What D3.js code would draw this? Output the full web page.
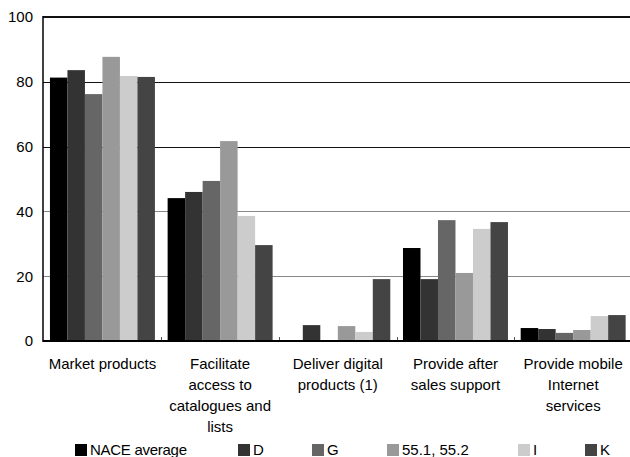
<!DOCTYPE html>
<html><head><meta charset="utf-8">
<script src="https://cdn.jsdelivr.net/npm/d3@7"></script>
<style>body{margin:0;background:#fff}svg{display:block;font-family:"Liberation Sans",Arial,sans-serif}</style>
</head><body><svg id="c" width="630" height="457"></svg>
<script>
const categories = [
  ["Market products"],
  ["Facilitate","access to","catalogues and","lists"],
  ["Deliver digital","products (1)"],
  ["Provide after","sales support"],
  ["Provide mobile","Internet","services"]
];
const seriesNames = ["NACE average","D","G","55.1, 55.2","I","K"];
const nace   = [81.3, 44.1, 0,   28.7, 4.0];
const sD     = [83.6, 46.0, 4.9, 19.1, 3.7];
const sG     = [76.2, 49.4, 0,   37.3, 2.5];
const s551   = [87.7, 61.7, 4.6, 21.0, 3.4];
const sI     = [81.8, 38.6, 2.8, 34.6, 7.7];
const sK     = [81.5, 29.6, 19.1, 36.7, 8.0];
const yTicks = [0, 20, 40, 60, 80, 100];

const seriesValues = [nace, sD, sG, s551, sI, sK];
const colors = ["#000000","#333333","#666666","#999999","#cccccc","#444444"];
const gridColors = {0:"#000",20:"#888",40:"#888",60:"#111",80:"#111",100:"#111"};
const legendX = [75, 238, 312, 387, 518, 585];

const svg = d3.select("#c");
const catKeys = categories.map((c,i)=>"c"+i);
const x0 = d3.scaleBand().domain(catKeys).range([43.6, 632]).padding(0);
const pad = 6.35;
const x1 = d3.scaleBand().domain(seriesNames).range([pad, x0.bandwidth()-pad]).padding(0);
const y = d3.scaleLinear().domain([0,100]).range([341,17]);
const crisp = v => Math.round(v) + 0.5;

// gridlines
svg.append("g").selectAll("line").data(yTicks.filter(t=>t>0)).join("line")
  .attr("x1",43).attr("x2",630)
  .attr("y1",d=>d===100?y(d):crisp(y(d))).attr("y2",d=>d===100?y(d):crisp(y(d)))
  .attr("stroke",d=>gridColors[d])
  .attr("stroke-width",d=>d===100?2:1);

// bars
const groups = svg.append("g").selectAll("g").data(catKeys).join("g")
  .attr("transform",d=>`translate(${x0(d)},0)`);
groups.selectAll("rect").data((d,ci)=>seriesNames.map((s,si)=>({s,si,v:seriesValues[si][ci]})))
  .join("rect")
  .attr("x",d=>x1(d.s)).attr("width",x1.bandwidth())
  .attr("y",d=>y(d.v)).attr("height",d=>y(0)-y(d.v))
  .attr("fill",d=>colors[d.si]);

// category tick marks
svg.append("g").selectAll("line").data(catKeys.slice(1)).join("line")
  .attr("x1",d=>crisp(x0(d))).attr("x2",d=>crisp(x0(d)))
  .attr("y1",y(0)-4).attr("y2",y(0))
  .attr("stroke","#555").attr("stroke-width",1);

// axes lines
svg.append("line").attr("x1",43).attr("x2",630).attr("y1",y(0)).attr("y2",y(0))
  .attr("stroke","#000").attr("stroke-width",2);
svg.append("line").attr("x1",43).attr("x2",43).attr("y1",y(100)-1).attr("y2",y(0)+1)
  .attr("stroke","#000").attr("stroke-width",1.5);

// y tick labels
svg.append("g").selectAll("text").data(yTicks).join("text")
  .attr("x",33).attr("y",d=>y(d)).attr("dy","0.36em")
  .attr("text-anchor","end").attr("font-size",15).attr("fill","#000")
  .text(d=>d);

// category labels
const lab = svg.append("g").selectAll("text").data(categories).join("text")
  .attr("text-anchor","middle").attr("font-size",15).attr("fill","#000");
lab.each(function(lines,i){
  const cx = x0(catKeys[i]) + x0.bandwidth()/2;
  d3.select(this).selectAll("tspan").data(lines).join("tspan")
    .attr("x",cx).attr("y",(d,j)=>369 + j*21).text(d=>d);
});

// legend
const lg = svg.append("g").selectAll("g").data(seriesNames).join("g")
  .attr("transform",(d,i)=>`translate(${legendX[i]},0)`);
lg.append("rect").attr("x",0).attr("y",444).attr("width",12).attr("height",12)
  .attr("fill",(d,i)=>colors[i]);
lg.append("text").attr("x",15).attr("y",455).attr("font-size",15).attr("fill","#000")
  .attr("textLength",(d,i)=>i===0?97:null)
  .text(d=>d);
</script>
</body></html>
